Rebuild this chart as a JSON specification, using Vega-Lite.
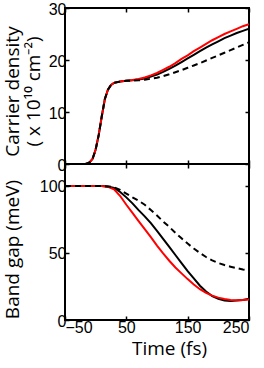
{
  "$schema": "https://vega.github.io/schema/vega-lite/v6.json",
  "padding": {"left": 2, "top": 0, "right": 0, "bottom": 0},
  "background": "white",
  "spacing": 0,
  "bounds": "flush",
  "config": {
    "view": {"stroke": "black", "strokeWidth": 2},
    "axis": {
      "domain": false, "grid": false,
      "tickColor": "black", "tickWidth": 1.5, "tickSize": -4,
      "labelFont": "Liberation Sans", "labelFontSize": 16, "labelColor": "black",
      "titleFont": "Open Sans", "titleFontSize": 19, "titleFontWeight": "normal", "titleColor": "black"
    }
  },
  "datasets": {
    "density": [
      {"s":"all","t":-50,"v":0},{"s":"all","t":-20,"v":0},{"s":"all","t":-15,"v":0.05},{"s":"all","t":-10,"v":0.3},{"s":"all","t":-5,"v":1.0},{"s":"all","t":0,"v":2.8},{"s":"all","t":5,"v":5.6},{"s":"all","t":10,"v":9.2},{"s":"all","t":15,"v":12.5},{"s":"all","t":20,"v":14.3},{"s":"all","t":25,"v":15.2},{"s":"all","t":30,"v":15.6},{"s":"all","t":40,"v":15.85},{"s":"all","t":50,"v":16.0},
      {"s":"red","t":50,"v":16.0},{"s":"red","t":60,"v":16.15},{"s":"red","t":70,"v":16.35},{"s":"red","t":80,"v":16.65},{"s":"red","t":90,"v":17.05},{"s":"red","t":100,"v":17.5},{"s":"red","t":110,"v":18.1},{"s":"red","t":120,"v":18.7},{"s":"red","t":130,"v":19.4},{"s":"red","t":140,"v":20.2},{"s":"red","t":150,"v":20.9},{"s":"red","t":160,"v":21.7},{"s":"red","t":170,"v":22.4},{"s":"red","t":180,"v":23.1},{"s":"red","t":190,"v":23.8},{"s":"red","t":200,"v":24.4},{"s":"red","t":210,"v":25.0},{"s":"red","t":220,"v":25.5},{"s":"red","t":230,"v":26.0},{"s":"red","t":240,"v":26.5},{"s":"red","t":250,"v":26.9},
      {"s":"black","t":50,"v":16.0},{"s":"black","t":60,"v":16.1},{"s":"black","t":70,"v":16.25},{"s":"black","t":80,"v":16.45},{"s":"black","t":90,"v":16.8},{"s":"black","t":100,"v":17.2},{"s":"black","t":110,"v":17.7},{"s":"black","t":120,"v":18.3},{"s":"black","t":130,"v":18.9},{"s":"black","t":140,"v":19.6},{"s":"black","t":150,"v":20.3},{"s":"black","t":160,"v":21.0},{"s":"black","t":170,"v":21.7},{"s":"black","t":180,"v":22.4},{"s":"black","t":190,"v":23.0},{"s":"black","t":200,"v":23.6},{"s":"black","t":210,"v":24.2},{"s":"black","t":220,"v":24.7},{"s":"black","t":230,"v":25.2},{"s":"black","t":240,"v":25.6},{"s":"black","t":250,"v":26.0},
      {"s":"dashed","t":50,"v":16.0},{"s":"dashed","t":60,"v":16.05},{"s":"dashed","t":70,"v":16.1},{"s":"dashed","t":80,"v":16.2},{"s":"dashed","t":90,"v":16.4},{"s":"dashed","t":100,"v":16.6},{"s":"dashed","t":110,"v":16.9},{"s":"dashed","t":120,"v":17.25},{"s":"dashed","t":130,"v":17.65},{"s":"dashed","t":140,"v":18.05},{"s":"dashed","t":150,"v":18.5},{"s":"dashed","t":160,"v":18.95},{"s":"dashed","t":170,"v":19.4},{"s":"dashed","t":180,"v":19.9},{"s":"dashed","t":190,"v":20.4},{"s":"dashed","t":200,"v":20.9},{"s":"dashed","t":210,"v":21.4},{"s":"dashed","t":220,"v":21.9},{"s":"dashed","t":230,"v":22.4},{"s":"dashed","t":240,"v":22.9},{"s":"dashed","t":250,"v":23.4}
    ],
    "gap": [
      {"s":"red","t":-50,"v":100},{"s":"red","t":0,"v":100},{"s":"red","t":10,"v":99.9},{"s":"red","t":20,"v":99.3},{"s":"red","t":30,"v":97.5},{"s":"red","t":40,"v":92.5},{"s":"red","t":50,"v":86},{"s":"red","t":60,"v":80},{"s":"red","t":70,"v":73.8},{"s":"red","t":80,"v":67.8},{"s":"red","t":90,"v":61.8},{"s":"red","t":100,"v":55.5},{"s":"red","t":110,"v":49.7},{"s":"red","t":120,"v":44.2},{"s":"red","t":130,"v":39.2},{"s":"red","t":140,"v":34.8},{"s":"red","t":150,"v":30.5},{"s":"red","t":160,"v":26.5},{"s":"red","t":170,"v":23},{"s":"red","t":180,"v":20.3},{"s":"red","t":190,"v":18.2},{"s":"red","t":200,"v":16.7},{"s":"red","t":210,"v":15.7},{"s":"red","t":220,"v":15},{"s":"red","t":230,"v":14.8},{"s":"red","t":240,"v":15},{"s":"red","t":250,"v":15.3},
      {"s":"black","t":-50,"v":100},{"s":"black","t":10,"v":100},{"s":"black","t":20,"v":99.6},{"s":"black","t":30,"v":98.5},{"s":"black","t":40,"v":95.5},{"s":"black","t":50,"v":91.5},{"s":"black","t":60,"v":87},{"s":"black","t":70,"v":82},{"s":"black","t":80,"v":77.3},{"s":"black","t":90,"v":72.3},{"s":"black","t":100,"v":66.5},{"s":"black","t":110,"v":60.5},{"s":"black","t":120,"v":54.5},{"s":"black","t":130,"v":48.5},{"s":"black","t":140,"v":42.5},{"s":"black","t":150,"v":36.5},{"s":"black","t":160,"v":31},{"s":"black","t":170,"v":25.6},{"s":"black","t":180,"v":21.2},{"s":"black","t":190,"v":17.9},{"s":"black","t":200,"v":15.8},{"s":"black","t":210,"v":14.6},{"s":"black","t":220,"v":14.2},{"s":"black","t":230,"v":14.5},{"s":"black","t":240,"v":15},{"s":"black","t":250,"v":15.9},
      {"s":"dashed","t":-50,"v":100},{"s":"dashed","t":10,"v":100},{"s":"dashed","t":20,"v":99.7},{"s":"dashed","t":30,"v":99},{"s":"dashed","t":40,"v":97},{"s":"dashed","t":50,"v":94.3},{"s":"dashed","t":60,"v":91.5},{"s":"dashed","t":70,"v":89},{"s":"dashed","t":80,"v":86},{"s":"dashed","t":90,"v":82},{"s":"dashed","t":100,"v":78},{"s":"dashed","t":110,"v":73.5},{"s":"dashed","t":120,"v":69.5},{"s":"dashed","t":130,"v":65},{"s":"dashed","t":140,"v":61},{"s":"dashed","t":150,"v":57},{"s":"dashed","t":160,"v":53.3},{"s":"dashed","t":170,"v":50},{"s":"dashed","t":180,"v":47},{"s":"dashed","t":190,"v":44.5},{"s":"dashed","t":200,"v":42.5},{"s":"dashed","t":210,"v":41},{"s":"dashed","t":220,"v":39.8},{"s":"dashed","t":230,"v":38.7},{"s":"dashed","t":240,"v":37.7},{"s":"dashed","t":250,"v":36.9}
    ]
  },
  "vconcat": [
    {
      "width": 184, "height": 156,
      "data": {"name": "density"},
      "layer": [
        {
          "transform": [{"filter": "datum.s == 'black' || datum.s == 'all'"}],
          "mark": {"type": "line", "color": "black", "strokeWidth": 2, "clip": true},
          "encoding": {
            "x": {"field": "t", "type": "quantitative", "scale": {"domain": [-50, 250], "nice": false},
                  "axis": {"orient": "bottom", "values": [-50, 50, 150, 250], "labels": false, "title": null}},
            "y": {"field": "v", "type": "quantitative", "scale": {"domain": [0, 30], "nice": false},
                  "axis": {"orient": "left", "values": [0, 10, 20, 30], "title": ["Carrier density", "( x 10¹⁰ cm⁻²)"],
                           "titlePadding": 5, "titleY": 83, "titleLineHeight": 21, "labelPadding": 3, "labelOffset": 1}}
          }
        },
        {
          "transform": [{"filter": "datum.s == 'red' || datum.s == 'all'"}],
          "mark": {"type": "line", "color": "#ff0000", "strokeWidth": 2, "clip": true},
          "encoding": {
            "x": {"field": "t", "type": "quantitative", "axis": null},
            "y": {"field": "v", "type": "quantitative", "axis": null}
          }
        },
        {
          "transform": [{"filter": "datum.s == 'dashed' || datum.s == 'all'"}],
          "mark": {"type": "line", "color": "black", "strokeWidth": 2, "strokeDash": [6, 4], "clip": true},
          "encoding": {
            "x": {"field": "t", "type": "quantitative", "axis": null},
            "y": {"field": "v", "type": "quantitative", "axis": null}
          }
        },
        {
          "transform": [{"filter": "datum.s == 'all'"}],
          "mark": {"type": "line", "opacity": 0},
          "encoding": {
            "x": {"field": "t", "type": "quantitative",
                  "axis": {"orient": "top", "values": [-50, 50, 150, 250], "labels": false, "title": null}},
            "y": {"field": "v", "type": "quantitative",
                  "axis": {"orient": "right", "values": [0, 10, 20, 30], "labels": false, "title": null}}
          }
        }
      ],
      "resolve": {"axis": {"x": "independent", "y": "independent"}}
    },
    {
      "width": 184, "height": 156,
      "data": {"name": "gap"},
      "layer": [
        {
          "transform": [{"filter": "datum.s == 'black'"}],
          "mark": {"type": "line", "color": "black", "strokeWidth": 2, "clip": true},
          "encoding": {
            "x": {"field": "t", "type": "quantitative", "scale": {"domain": [-50, 250], "nice": false},
                  "axis": {"orient": "bottom", "values": [-50, 50, 150, 250], "title": "Time (fs)", "titleX": 104, "labelPadding": 3, "titlePadding": 4}},
            "y": {"field": "v", "type": "quantitative", "scale": {"domain": [0, 116.4], "nice": false},
                  "axis": {"orient": "left", "values": [0, 50, 100], "title": "Band gap (meV)",
                           "titlePadding": 17, "titleY": 85, "labelPadding": 3, "labelOffset": 1}}
          }
        },
        {
          "transform": [{"filter": "datum.s == 'red'"}],
          "mark": {"type": "line", "color": "#ff0000", "strokeWidth": 2, "clip": true},
          "encoding": {
            "x": {"field": "t", "type": "quantitative", "axis": null},
            "y": {"field": "v", "type": "quantitative", "axis": null}
          }
        },
        {
          "transform": [{"filter": "datum.s == 'dashed'"}],
          "mark": {"type": "line", "color": "black", "strokeWidth": 2, "strokeDash": [6, 4], "clip": true},
          "encoding": {
            "x": {"field": "t", "type": "quantitative", "axis": null},
            "y": {"field": "v", "type": "quantitative", "axis": null}
          }
        },
        {
          "transform": [{"filter": "datum.s == 'black'"}],
          "mark": {"type": "line", "opacity": 0},
          "encoding": {
            "x": {"field": "t", "type": "quantitative",
                  "axis": {"orient": "top", "values": [-50, 50, 150, 250], "labels": false, "title": null}},
            "y": {"field": "v", "type": "quantitative",
                  "axis": {"orient": "right", "values": [0, 50, 100], "labels": false, "title": null}}
          }
        }
      ],
      "resolve": {"axis": {"x": "independent", "y": "independent"}}
    }
  ]
}
